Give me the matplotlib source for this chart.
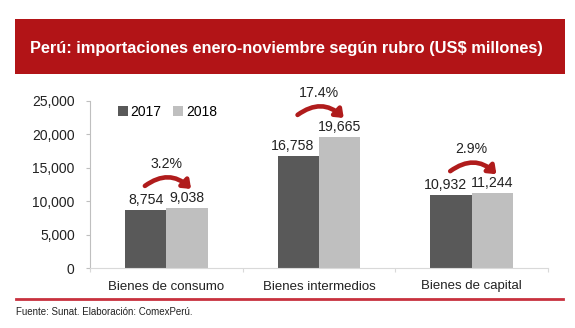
import numpy as np
import matplotlib
matplotlib.use("Agg")
import matplotlib.pyplot as plt
from matplotlib.patches import Rectangle, FancyArrowPatch
from matplotlib.lines import Line2D

plt.rcParams["font.family"] = ["Liberation Sans", "DejaVu Sans"]

categories = ["Bienes de consumo", "Bienes intermedios", "Bienes de capital"]
v2017 = [8754, 16758, 10932]
v2018 = [9038, 19665, 11244]
growth = ["3.2%", "17.4%", "2.9%"]
years = ["2017", "2018"]
yticks = [0, 5000, 10000, 15000, 20000, 25000]

DARK = "#595959"; LIGHT = "#BFBFBF"; RED = "#B21417"; ARROW = "#B01C1C"; TXT = "#222222"
W, H = 575, 328

fig = plt.figure(figsize=(W / 100, H / 100), dpi=100)

# title banner
fig.patches.append(Rectangle((15 / W, 1 - 74 / H), 550 / W, 55 / H, transform=fig.transFigure,
                             facecolor=RED, edgecolor="none", zorder=0))
fig.text(286 / W, 1 - 48 / H, "Perú: importaciones enero-noviembre según rubro (US$ millones)",
         ha="center", va="center", color="white", fontsize=11.8, fontweight="bold")

# bottom rule + source
fig.add_artist(Line2D([16 / W, 563 / W], [1 - 299 / H] * 2, transform=fig.transFigure,
                      color="#C8313E", lw=2))
fig.text(16 / W, 1 - 312 / H, "Fuente: Sunat. Elaboración: ComexPerú.", ha="left", va="center",
         fontsize=7, color=TXT)

ax = fig.add_axes([90 / W, 1 - 268 / H, 458 / W, 167 / H])
x = np.arange(len(categories))
bw = 0.27
ax.bar(x - bw / 2, v2017, bw, color=DARK, label=years[0])
ax.bar(x + bw / 2, v2018, bw, color=LIGHT, label=years[1])

for xi, a, b, g in zip(x, v2017, v2018, growth):
    # wide (5-digit) labels get nudged left so they don't collide, like Excel does
    nudge = -4 if a >= 10000 else 0
    ax.annotate(f"{a:,}", (xi - bw / 2, a), xytext=(nudge, 2), textcoords="offset points",
                ha="center", va="bottom", fontsize=10.2, color=TXT)
    ax.annotate(f"{b:,}", (xi + bw / 2, b), xytext=(0, 2), textcoords="offset points",
                ha="center", va="bottom", fontsize=10.2, color=TXT)
    top = max(a, b)
    arr = FancyArrowPatch((xi - bw / 2 - 0.02, top + 3000), (xi + bw / 2 + 0.04, top + 2500),
                          connectionstyle="arc3,rad=-0.45",
                          arrowstyle="-|>,head_length=4.5,head_width=3.5",
                          color=ARROW, lw=3.3, clip_on=False, zorder=5)
    ax.add_patch(arr)
    ax.text(xi, top + 6500, g, ha="center", va="center", fontsize=10.2, color=TXT, clip_on=False)

ax.set_xlim(-0.5, 2.5)
ax.set_ylim(0, 25000)
ax.set_yticks(yticks)
ax.set_yticklabels([f"{t:,}" for t in yticks], fontsize=10, color=TXT)
ax.set_xticks([-0.5, 0.5, 1.5, 2.5])
ax.set_xticklabels([])
ax.set_xticks(x, minor=True)
ax.set_xticklabels(categories, minor=True, fontsize=9.5, color=TXT)
ax.tick_params(axis="x", which="minor", length=0, pad=9)
ax.tick_params(axis="x", which="major", length=3, color="#D9D9D9", direction="out")
ax.tick_params(axis="y", length=3, color="#BFBFBF", pad=8)
for s in ["top", "right"]:
    ax.spines[s].set_visible(False)
ax.spines["left"].set_color("#BFBFBF")
ax.spines["bottom"].set_color("#D9D9D9")

ax.legend(loc="upper left", bbox_to_anchor=(0.045, 1.02), ncol=2, frameon=False, fontsize=10,
          handlelength=0.75, handleheight=0.75, handletextpad=0.2, columnspacing=0.8, borderpad=0)

fig.savefig("out.png", dpi=100)
